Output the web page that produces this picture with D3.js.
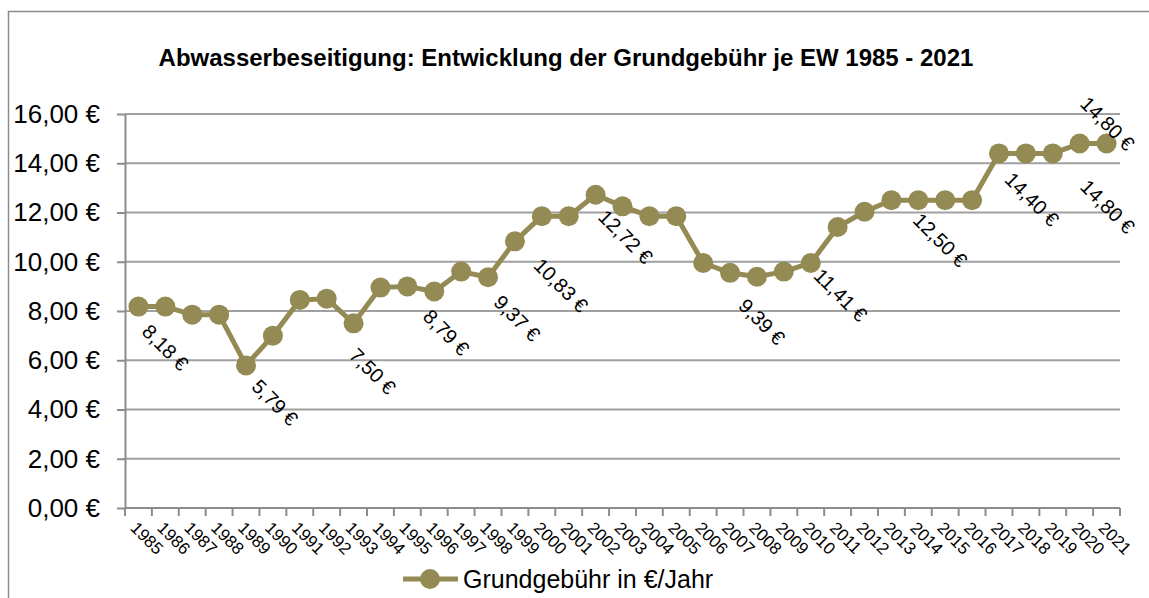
<html>
<head>
    <meta charset="utf-8">
    <title>Abwasserbeseitigung Grundgebühr</title>
    <style type="text/css">
        body{
            margin: 0;
            background-color: #fff;
        }
        svg{
            display: block;
            font-family: Arial, 'Liberation Sans', sans-serif;
        }
        .grid line{
            stroke: #a0a0a0;
            stroke-width: 2px;
        }
        .axis path, .axis line{
            stroke: #8c8c8c;
            stroke-width: 2px;
        }
    </style>
    <script type="text/javascript" src="https://cdn.jsdelivr.net/npm/d3@7/dist/d3.min.js"></script>
</head>
<body>

    <div id="chart"></div>

    <script type="text/javascript">
        var years = [1985,1986,1987,1988,1989,1990,1991,1992,1993,1994,1995,1996,1997,1998,1999,2000,2001,2002,2003,
                     2004,2005,2006,2007,2008,2009,2010,2011,2012,2013,2014,2015,2016,2017,2018,2019,2020,2021];
        var fees = [8.18,8.18,7.85,7.85,5.79,7.00,8.45,8.50,7.50,8.95,9.00,8.79,9.60,9.37,10.83,11.85,11.85,12.72,12.25,
                    11.85,11.85,9.95,9.55,9.39,9.60,9.95,11.41,12.03,12.50,12.50,12.50,12.50,14.40,14.40,14.40,14.80,14.80];
        var yTicks = [0,2,4,6,8,10,12,14,16];
        var labelYears = [1985,1989,1993,1996,1998,1999,2002,2008,2011,2014,2017,2020,2021];
        var seriesName = 'Grundgebühr in €/Jahr';
        var title = 'Abwasserbeseitigung: Entwicklung der Grundgebühr je EW 1985 - 2021';

        // where each data label sits relative to its point (hand placed in the original)
        var labelShift = {1985:[27,41],1989:[29,37],1993:[19,48],1996:[12,41],1998:[29,41],1999:[46,44],
                          2002:[30,42],2008:[5,45],2011:[3,68],2014:[22,40],2017:[33,46],2020:[28,63],2021:[1,-20]};

        var width = 1149, height = 598;
        var plotLeft = 125, plotRight = 1120, plotTop = 114, plotBottom = 508;
        var color = '#948A54';

        var de = d3.formatLocale({decimal: ',', thousands: '.', grouping: [3], currency: ['', ' €']});
        var euro = function(v){ return de.format('.2f')(v) + ' €'; };

        var data = years.map(function(y, i){ return {year: y, value: fees[i]}; });

        var svg = d3.select('#chart')
            .append('svg')
            .attr('width', width)
            .attr('height', height);

        // outer frame
        svg.append('rect')
            .attr('x', 8.5).attr('y', 11.5)
            .attr('width', 1200).attr('height', 700)
            .attr('fill', 'none')
            .attr('stroke', '#8c8c8c')
            .attr('stroke-width', 1.5);

        svg.append('text')
            .attr('x', 566).attr('y', 66)
            .attr('text-anchor', 'middle')
            .style('font-size', '24px')
            .style('font-weight', 'bold')
            .text(title);

        var xScale = d3.scaleBand()
            .domain(years)
            .range([plotLeft, plotRight]);

        var yScale = d3.scaleLinear()
            .domain([0, 16])
            .range([plotBottom, plotTop]);

        // gridlines
        svg.append('g')
            .attr('class', 'grid')
            .selectAll('line')
            .data(yTicks.filter(function(d){ return d > 0; }))
            .enter()
            .append('line')
            .attr('x1', plotLeft).attr('x2', plotRight)
            .attr('y1', function(d){ return yScale(d); })
            .attr('y2', function(d){ return yScale(d); });

        // y axis
        var yAxis = d3.axisLeft(yScale)
            .tickValues(yTicks)
            .tickSize(8)
            .tickSizeOuter(0)
            .tickPadding(17)
            .tickFormat(euro);

        var yAxisG = svg.append('g')
            .attr('class', 'axis')
            .attr('transform', 'translate(' + plotLeft + ',0)')
            .call(yAxis);
        yAxisG.selectAll('text')
            .style('font-size', '26px')
            .style('font-family', 'Arial, Liberation Sans, sans-serif')
            .attr('fill', '#000');

        // x axis: line + ticks at category borders
        var xAxisG = svg.append('g')
            .attr('class', 'axis');
        xAxisG.append('line')
            .attr('x1', plotLeft).attr('x2', plotRight)
            .attr('y1', plotBottom).attr('y2', plotBottom);
        xAxisG.selectAll('.tick')
            .data(years.concat(['end']))
            .enter()
            .append('line')
            .attr('class', 'tick')
            .attr('x1', function(d){ return d === 'end' ? plotRight : xScale(d); })
            .attr('x2', function(d){ return d === 'end' ? plotRight : xScale(d); })
            .attr('y1', plotBottom).attr('y2', plotBottom + 8);

        xAxisG.selectAll('.year')
            .data(years)
            .enter()
            .append('text')
            .attr('class', 'year')
            .attr('transform', function(d){
                return 'translate(' + (xScale(d) + xScale.bandwidth()/2 - 9) + ',' + 529 + ') rotate(45)';
            })
            .style('font-size', '17px')
            .text(function(d){ return d; });

        // series
        var line = d3.line()
            .x(function(d){ return xScale(d.year) + xScale.bandwidth()/2; })
            .y(function(d){ return yScale(d.value); });

        svg.append('path')
            .datum(data)
            .attr('d', line)
            .attr('fill', 'none')
            .attr('stroke', color)
            .attr('stroke-width', 5)
            .attr('stroke-linejoin', 'round');

        svg.selectAll('.dot')
            .data(data)
            .enter()
            .append('circle')
            .attr('class', 'dot')
            .attr('cx', function(d){ return xScale(d.year) + xScale.bandwidth()/2; })
            .attr('cy', function(d){ return yScale(d.value); })
            .attr('r', 10)
            .attr('fill', color);

        // data labels
        var labelled = data.filter(function(d){ return labelYears.indexOf(d.year) >= 0; });
        svg.selectAll('.label')
            .data(labelled)
            .enter()
            .append('text')
            .attr('class', 'label')
            .attr('text-anchor', 'middle')
            .attr('dy', '0.35em')
            .attr('transform', function(d){
                var s = labelShift[d.year];
                var cx = xScale(d.year) + xScale.bandwidth()/2 + s[0];
                var cy = yScale(d.value) + s[1];
                return 'translate(' + cx + ',' + cy + ') rotate(45)';
            })
            .style('font-size', '20px')
            .text(function(d){ return euro(d.value); });

        // legend
        var legend = svg.append('g');
        legend.append('line')
            .attr('x1', 403).attr('x2', 458)
            .attr('y1', 579).attr('y2', 579)
            .attr('stroke', color)
            .attr('stroke-width', 5);
        legend.append('circle')
            .attr('cx', 430).attr('cy', 579)
            .attr('r', 10)
            .attr('fill', color);
        legend.append('text')
            .attr('x', 463).attr('y', 588)
            .style('font-size', '25px')
            .text(seriesName);
    </script>

</body>
</html>
